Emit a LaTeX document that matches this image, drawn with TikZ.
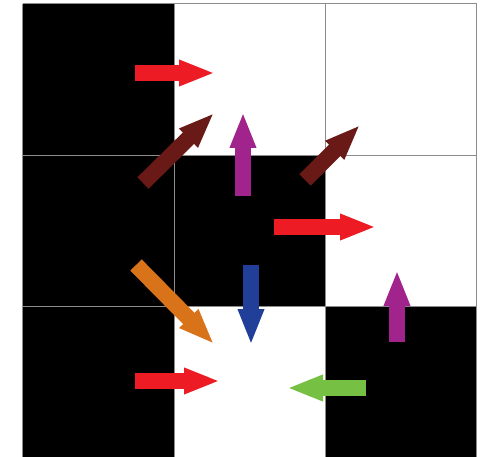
\documentclass[tikz,border=0pt]{standalone}
\usetikzlibrary{arrows.meta}
\definecolor{movered}{RGB}{237,28,36}
\definecolor{movemaroon}{RGB}{106,26,22}
\definecolor{movepurple}{RGB}{160,36,140}
\definecolor{moveorange}{RGB}{217,115,26}
\definecolor{moveblue}{RGB}{33,63,153}
\definecolor{movegreen}{RGB}{118,192,67}
\definecolor{gridgray}{RGB}{140,140,140}
\begin{document}
\begin{tikzpicture}[x=1pt, y=-1pt,
    move/.style={line width=16pt, shorten >=-3pt, -{Triangle[length=36pt, width=24pt]}}]
    \useasboundingbox (0,0) rectangle (484,457);
    % walls
    \foreach \c/\r in {0/0, 0/1, 1/1, 0/2, 2/2} {
        \fill[black] (22.7+151.3*\c, 4+151.3*\r) rectangle ++(151.3, 151.3);
    }
    % grid
    \foreach \i in {0, 1, 2, 3} {
        \draw[gridgray, line width=1pt] (22.7+151.3*\i, 4) -- (22.7+151.3*\i, 460);
        \draw[gridgray, line width=1pt] (22.7, 4+151.3*\i) -- (476.6, 4+151.3*\i);
    }
    % policy arrows
    \draw[move, movered] (135, 73) -- (212, 73);
    \draw[move, movemaroon] (143, 183) -- (212, 115);
    \draw[move, movepurple] (243, 196) -- (243, 115);
    \draw[move, movemaroon] (305, 180) -- (358, 127);
    \draw[move, movered] (274, 227) -- (373, 227);
    \draw[move, moveorange] (136, 265) -- (212, 342);
    \draw[move, moveblue] (251, 265) -- (251, 342);
    \draw[move, movepurple] (397, 342) -- (397, 273);
    \draw[move, movered] (135, 381) -- (217, 381);
    \draw[move, movegreen] (366, 388) -- (290, 388);
\end{tikzpicture}
\end{document}
